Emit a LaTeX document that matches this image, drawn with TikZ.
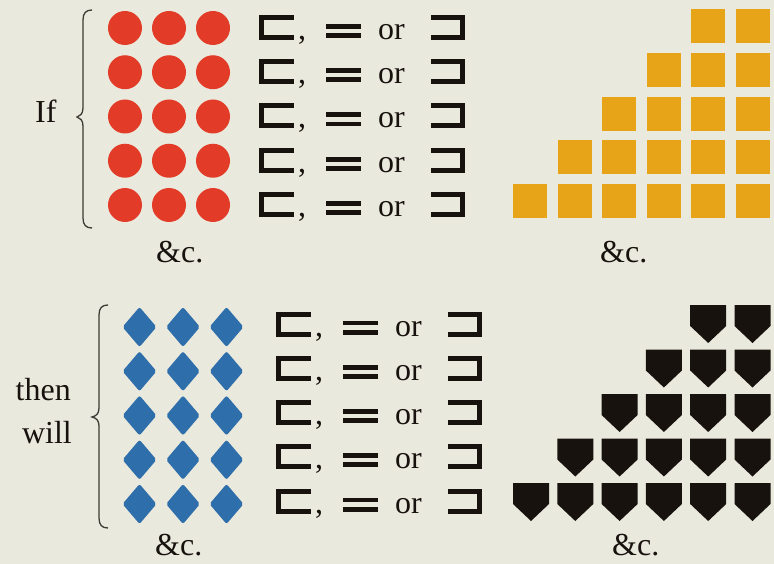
\documentclass[tikz,border=0pt]{standalone}
\usepackage{fontspec}
\setmainfont{Liberation Serif}
\definecolor{bg}{RGB}{234,233,221}
\definecolor{redc}{RGB}{226,60,40}
\definecolor{orangec}{RGB}{232,164,24}
\definecolor{bluec}{RGB}{46,110,170}
\definecolor{inkc}{RGB}{24,18,14}
\definecolor{bracec}{RGB}{60,58,52}
\tikzset{
  txt/.style={inner sep=0pt,text=inkc,font=\fontsize{32}{38}\selectfont},
  sym/.style={draw=inkc,line width=5pt,line cap=butt,line join=miter},
  bracestyle/.style={draw=bracec,line width=1.3pt},
  relrow/.pic={
    \draw[sym] (35,-10) -- (2.5,-10) -- (2.5,10) -- (35,10);
    \node[txt,anchor=base west] (comma) at (39,12) {,};
    \fill[inkc] (67,-3.5) rectangle (102,1.3);
    \fill[inkc] (67,5.7) rectangle (102,10.5);
    \node[txt,anchor=base west] (or) at (119,12) {or};
    \draw[sym] (172,-10) -- (203.5,-10) -- (203.5,10) -- (172,10);
  }
}
\begin{document}
\begin{tikzpicture}[x=1pt,y=-1pt]
\useasboundingbox (0,0) rectangle (774,564);
\fill[bg] (0,0) rectangle (774,564);
% red circles
\foreach \r in {0,...,4}
  \foreach \c in {0,1,2}
    \fill[redc] ({125+44*\c},{28+44.25*\r}) circle[radius=17];
% blue diamonds
\foreach \r in {0,...,4}
  \foreach \c in {0,1,2}
    \fill[bluec,rounded corners=2pt] ({139.5+43.5*\c},{307+44.25*\r}) -- ++(17,20) -- ++(-17,20) -- ++(-17,-20) -- cycle;
% relation rows
\foreach \r in {0,...,4} {
  \pic (top\r) at (259,{27.5+44.25*\r}) {relrow};
  \pic (bot\r) at (276,{324+44.25*\r}) {relrow};
}
% orange squares
\foreach \r in {0,...,4} {
  \pgfmathtruncatemacro\s{4-\r}
  \foreach \c in {\s,...,5}
    \fill[orangec] ({513+44.6*\c},{9+43.8*\r}) rectangle +(34,34);
}
% black pentagons
\foreach \r in {0,...,4} {
  \pgfmathtruncatemacro\s{4-\r}
  \foreach \c in {\s,...,5}
    \fill[inkc] ({513+44.3*\c},{305+44.5*\r}) -- ++(36,0) -- ++(0,21) -- ++(-18,17) -- ++(-18,-17) -- cycle;
}
% braces
\draw[bracestyle] (92,10) .. controls (86,10) and (83,13) .. (83,20) -- (83,108)
  .. controls (83,114) and (80,116) .. (77,117) .. controls (80,118) and (83,120) .. (83,126)
  -- (83,218) .. controls (83,225) and (86,228) .. (92,228);
\draw[bracestyle] (108,305) .. controls (102,305) and (99,308) .. (99,315) -- (99,408)
  .. controls (99,414) and (96,416) .. (92,417) .. controls (96,418) and (99,420) .. (99,426)
  -- (99,518) .. controls (99,525) and (102,528) .. (108,528);
% labels
\node[txt,anchor=base west] (if) at (35,123) {If};
\node[txt,anchor=base east] (then) at (71,400) {then};
\node[txt,anchor=base east] (will) at (72,443) {will};
\node[txt,anchor=base west] (etc1) at (156,262) {\&c.};
\node[txt,anchor=base west] (etc2) at (600,262) {\&c.};
\node[txt,anchor=base west] (etc3) at (155,555) {\&c.};
\node[txt,anchor=base west] (etc4) at (612,555) {\&c.};
\end{tikzpicture}
\end{document}
